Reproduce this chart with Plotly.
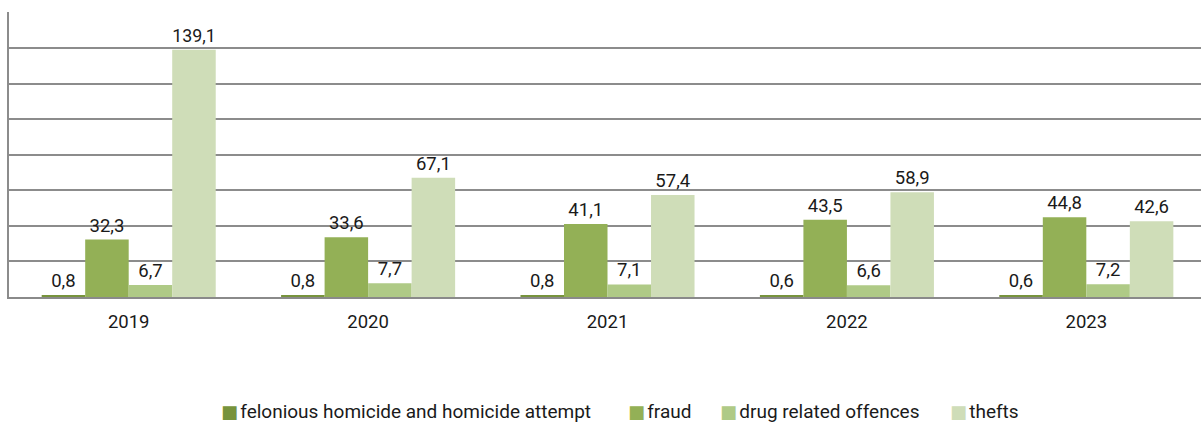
import plotly.graph_objects as go

years = ["2019", "2020", "2021", "2022", "2023"]
series_names = ["felonious homicide and homicide attempt", "fraud", "drug related offences", "thefts"]
felonious = [0.8, 0.8, 0.8, 0.6, 0.6]
fraud = [32.3, 33.6, 41.1, 43.5, 44.8]
drug = [6.7, 7.7, 7.1, 6.6, 7.2]
thefts = [139.1, 67.1, 57.4, 58.9, 42.6]
colors = ["#77933C", "#93B056", "#AFCA86", "#CFDDB8"]

W, H = 1201, 423
ML, MR, MT, MB = 9, 0, 12, 126
FONT = "Roboto, Arial, sans-serif"

fig = go.Figure()
for name, vals, col in zip(series_names, [felonious, fraud, drug, thefts], colors):
    fig.add_trace(go.Bar(
        x=years, y=vals, name=name, marker=dict(color=col, line=dict(width=0)),
        texttemplate="%{y:.1f}", textposition="outside", cliponaxis=False,
        textfont=dict(family=FONT, size=18.5, color="#1a1a1a"),
        showlegend=False,
    ))

# custom legend as text annotations
legend_x_px = [220, 627, 719, 949]
pw = W - ML - MR
ph = H - MT - MB
for name, col, xpx in zip(series_names, colors, legend_x_px):
    fig.add_annotation(
        xref="paper", yref="paper", x=(xpx - ML) / pw, y=(297 - 411) / ph,
        xanchor="left", yanchor="middle", showarrow=False, borderpad=0,
        text=(f"<span style='color:{col};font-family:DejaVu Sans;font-size:18px'>■</span>"
              f"<span style='font-size:9px'> </span>{name}"),
        font=dict(family=FONT, size=19, color="#1a1a1a"),
    )

fig.update_layout(
    width=W, height=H,
    margin=dict(l=ML, r=MR, t=MT, b=MB, pad=0),
    barmode="group", bargap=0.273, bargroupgap=0,
    plot_bgcolor="white", paper_bgcolor="white",
    separators=",.",
    font=dict(family=FONT, size=18.5, color="#1a1a1a"),
    xaxis=dict(
        type="category", range=[-0.5, 4.479],
        showline=True, linecolor="#8a8a8a", linewidth=2,
        showgrid=False, ticks="", ticklabelstandoff=7,
        tickfont=dict(family=FONT, size=18.5, color="#1a1a1a"),
    ),
    yaxis=dict(
        range=[0, 160.3], tick0=0, dtick=20, showticklabels=False,
        showgrid=True, gridcolor="#8c8c8c", gridwidth=1.5,
        showline=True, linecolor="#8c8c8c", linewidth=1.5,
        zeroline=False,
    ),
)

fig.write_html("out.html", config={"displayModeBar": False},
               post_script="document.body.style.margin='0';")
